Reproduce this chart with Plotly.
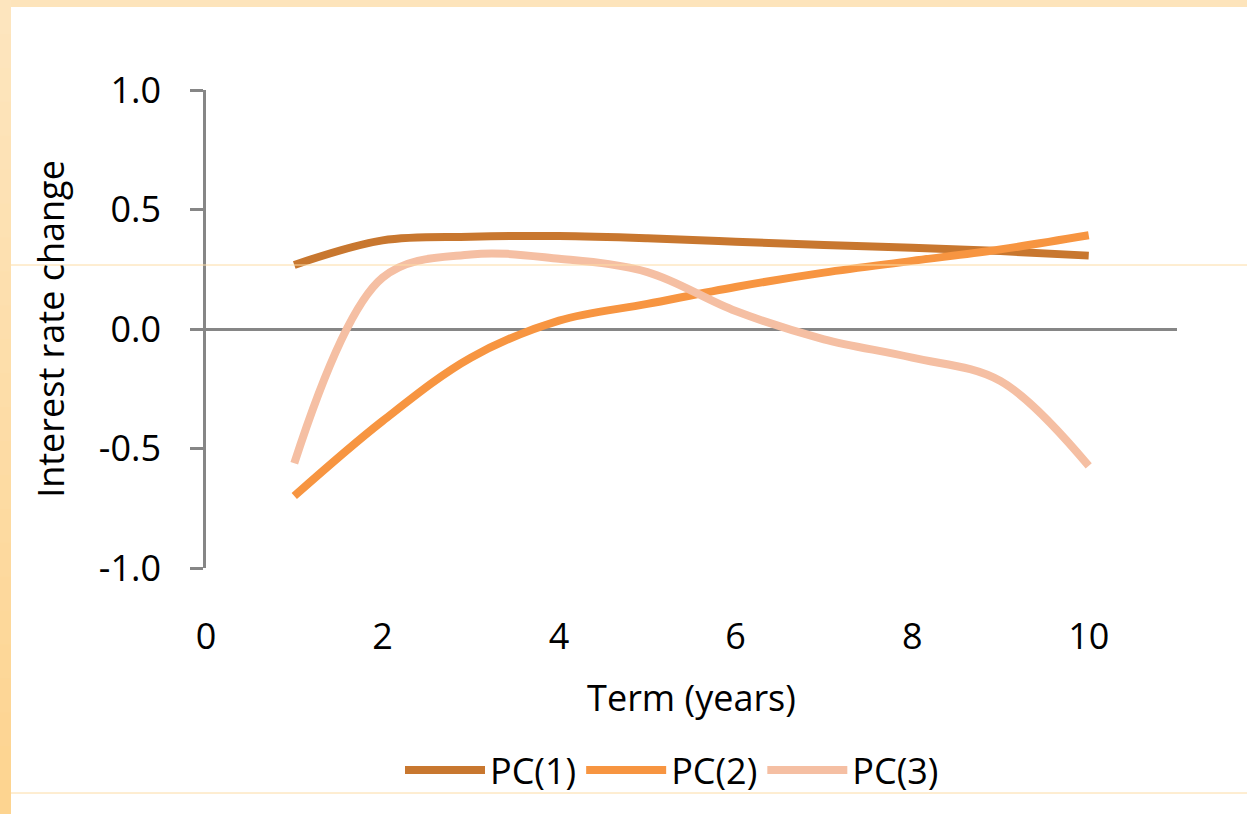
import plotly.graph_objects as go

# ---- data ----
term_years = [1, 2, 3, 4, 5, 6, 7, 8, 9, 10]
pc1 = [0.268, 0.371, 0.386, 0.389, 0.380, 0.365, 0.351, 0.340, 0.326, 0.307]
pc2 = [-0.699, -0.385, -0.120, 0.035, 0.105, 0.176, 0.236, 0.285, 0.333, 0.392]
pc3 = [-0.562, 0.215, 0.312, 0.294, 0.238, 0.075, -0.043, -0.120, -0.218, -0.573]
series_names = ["PC(1)", "PC(2)", "PC(3)"]
series_colors = ["#C8772F", "#F79541", "#F5BFA3"]
y_tick_vals = [-1.0, -0.5, 0.0, 0.5, 1.0]
y_tick_text = ["-1.0", "-0.5", "0.0", "0.5", "1.0"]
x_tick_vals = [0, 2, 4, 6, 8, 10]
x_tick_text = ["0", "2", "4", "6", "8", "10"]

W, H = 1247, 814
L, R, T, B = 206, 70, 90, 246
pw, ph = W - L - R, H - T - B


def px_x(p):
    return (p - L) / pw


def px_y(p):
    return (H - B - p) / ph


FONT = "'Open Sans', Lato, sans-serif"
FS = 36

fig = go.Figure()
for name, vals, col in zip(series_names, [pc1, pc2, pc3], series_colors):
    fig.add_trace(go.Scatter(
        x=term_years, y=vals, name=name, mode="lines",
        line=dict(color=col, width=8, shape="spline", smoothing=1.0),
    ))

shapes = []
# top band
shapes.append(dict(type="rect", xref="paper", yref="paper",
                   x0=px_x(0), x1=px_x(W), y0=px_y(7), y1=px_y(0),
                   fillcolor="#FDE4BB", line=dict(width=0), layer="above"))
# left band (gradient approximation)
n = 24
c0 = (0xFD, 0xE5, 0xBE)
c1 = (0xFD, 0xD4, 0x90)
for i in range(n):
    t = i / (n - 1)
    c = tuple(round(a + (b - a) * t) for a, b in zip(c0, c1))
    y_top = H * i / n
    y_bot = H * (i + 1) / n + 1
    shapes.append(dict(type="rect", xref="paper", yref="paper",
                       x0=px_x(0), x1=px_x(11), y0=px_y(y_bot), y1=px_y(y_top),
                       fillcolor="rgb(%d,%d,%d)" % c, line=dict(width=0), layer="above"))
# thin guide lines
for yy in (265, 793):
    shapes.append(dict(type="line", xref="paper", yref="paper",
                       x0=px_x(11), x1=px_x(W), y0=px_y(yy), y1=px_y(yy),
                       line=dict(color="#FDDCA4", width=1), layer="above"))

fig.update_layout(
    width=W, height=H,
    margin=dict(l=L, r=R, t=T, b=B, autoexpand=False),
    paper_bgcolor="white", plot_bgcolor="white",
    font=dict(family=FONT, size=FS, color="black"),
    shapes=shapes,
    showlegend=True,
    legend=dict(orientation="h", xanchor="center", yanchor="middle",
                x=px_x(672), y=px_y(770), font=dict(size=FS, family=FONT),
                itemwidth=80, bgcolor="rgba(0,0,0,0)", tracegroupgap=0),
    xaxis=dict(range=[0, 11], tickvals=x_tick_vals, ticktext=x_tick_text,
               showgrid=False, zeroline=False, showline=False, ticks="",
               ticklabelstandoff=44,
               title=dict(text="Term (years)", standoff=26,
                          font=dict(size=FS, family=FONT))),
    yaxis=dict(range=[-1, 1], tickvals=y_tick_vals, ticktext=y_tick_text,
               showgrid=False, zeroline=True, zerolinecolor="#868686", zerolinewidth=2.5,
               showline=True, linecolor="#868686", linewidth=2.5,
               ticks="outside", ticklen=13, tickwidth=2.5, tickcolor="#868686",
               ticklabelstandoff=22,
               title=dict(text="Interest rate change", standoff=24,
                          font=dict(size=FS, family=FONT))),
)

fig.write_html("out.html", config={"displayModeBar": False},
               post_script="document.body.style.margin='0';")
